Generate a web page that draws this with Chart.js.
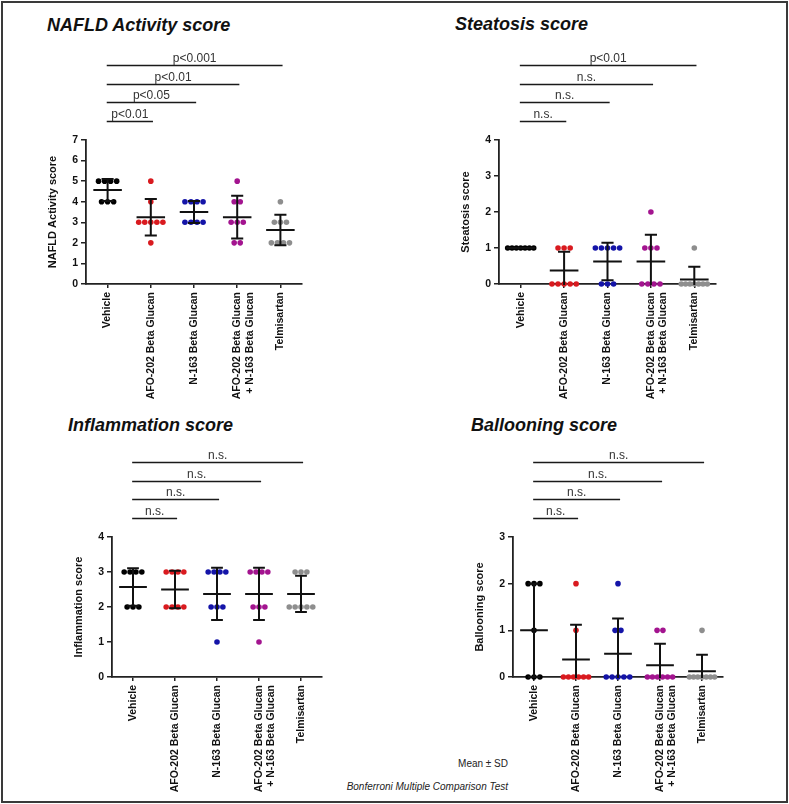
<!DOCTYPE html>
<html><head><meta charset="utf-8">
<script src="https://cdn.jsdelivr.net/npm/chart.js@4.4.0/dist/chart.umd.min.js"></script>
<style>
body{margin:0;background:#fff;width:789px;height:804px;position:relative;overflow:hidden;font-family:"Liberation Sans",Arial,Helvetica,sans-serif;}
.frame{position:absolute;left:1px;top:1px;width:783px;height:798px;border:2px solid #3a3a3a;}
.title{position:absolute;font-weight:bold;font-style:italic;font-size:18px;line-height:18px;color:#111;white-space:nowrap;}
canvas{position:absolute;}
.note{position:absolute;right:281px;font-size:10px;line-height:12px;color:#222;white-space:nowrap;text-align:right;}
</style></head><body>
<div class="frame"></div>
<div class="title" style="left:47px;top:16px;">NAFLD Activity score</div>
<div class="title" style="left:455px;top:15px;">Steatosis score</div>
<div class="title" style="left:68px;top:416px;">Inflammation score</div>
<div class="title" style="left:471px;top:416px;">Ballooning score</div>
<div class="note" style="top:758px;">Mean ± SD</div>
<div class="note" style="top:781px;font-style:italic;">Bonferroni Multiple Comparison Test</div>
<canvas id="c1"></canvas><canvas id="c2"></canvas><canvas id="c3"></canvas><canvas id="c4"></canvas>
<script>
// ---- data ----
const groups = ["Vehicle", "AFO-202 Beta Glucan", "N-163 Beta Glucan", ["AFO-202 Beta Glucan", "+ N-163 Beta Glucan"], "Telmisartan"];
const nafldScores = [[5,5,5,5,4,4,4],[5,4,3,3,3,3,3,2],[4,4,4,4,3,3,3,3],[5,4,4,3,3,3,2,2],[4,3,3,3,2,2,2,2]];
const steatosisScores = [[1,1,1,1,1,1,1],[1,1,1,0,0,0,0,0],[1,1,1,1,1,0,0,0],[2,1,1,1,0,0,0,0],[1,0,0,0,0,0,0,0]];
const inflammationScores = [[3,3,3,3,2,2,2],[3,3,3,3,2,2,2,2],[3,3,3,3,2,2,2,1],[3,3,3,3,2,2,2,1],[3,3,3,2,2,2,2,2]];
const ballooningScores = [[2,2,2,1,0,0,0],[2,1,0,0,0,0,0,0],[2,1,1,0,0,0,0,0],[1,1,0,0,0,0,0,0],[1,0,0,0,0,0,0,0]];
const nafldPLabels = ["p<0.01", "p<0.05", "p<0.01", "p<0.001"];
const steatosisPLabels = ["n.s.", "n.s.", "n.s.", "p<0.01"];
const inflammationPLabels = ["n.s.", "n.s.", "n.s.", "n.s."];
const ballooningPLabels = ["n.s.", "n.s.", "n.s.", "n.s."];
const nafldYMax = 7, steatosisYMax = 4, inflammationYMax = 4, ballooningYMax = 3;

// ---- styles ----
const groupColors = ["#000000", "#d91a1f", "#1414a8", "#a3148f", "#8e8e8e"];
const family = '"Liberation Sans", Arial, Helvetica, sans-serif';
const TOP_PAD = 92, RIGHT_PAD = 12, Y_W = 52, X_H = 118;

function spreadPoints(values, g) {
  const counts = {}, seen = {};
  values.forEach(v => counts[v] = (counts[v] || 0) + 1);
  return values.map(v => {
    const n = counts[v];
    const j = seen[v] = (seen[v] === undefined ? 0 : seen[v] + 1);
    const step = n > 1 ? Math.min(0.14, 0.6 / (n - 1)) : 0;
    return {x: g + (j - (n - 1) / 2) * step, y: v};
  });
}
function stats(vals) {
  const n = vals.length;
  const m = vals.reduce((a, b) => a + b, 0) / n;
  const sd = Math.sqrt(vals.reduce((a, b) => a + (b - m) * (b - m), 0) / (n - 1));
  return {m, sd};
}

function makeChart(id, area, scores, yMax, yTitle, pLabels) {
  const cv = document.getElementById(id);
  const left = area.left - Y_W, top = area.top - TOP_PAD;
  const w = area.right + RIGHT_PAD - left, h = TOP_PAD + (area.bottom - area.top) + X_H;
  cv.style.left = left + 'px'; cv.style.top = top + 'px';
  cv.width = w; cv.height = h; cv.style.width = w + 'px'; cv.style.height = h + 'px';

  const errPlugin = {
    id: 'errbars',
    afterDatasetsDraw(chart) {
      const {ctx, chartArea: a, scales: {x, y}} = chart;
      ctx.save();
      ctx.beginPath(); ctx.rect(a.left - 30, a.top - 2, a.right - a.left + 60, a.bottom - a.top + 3); ctx.clip();
      ctx.strokeStyle = '#111'; ctx.lineWidth = 2;
      scores.forEach((vals, g) => {
        const {m, sd} = stats(vals);
        const px = x.getPixelForValue(g);
        const ym = y.getPixelForValue(m), yh = y.getPixelForValue(m + sd), yl = y.getPixelForValue(m - sd);
        ctx.beginPath();
        ctx.moveTo(x.getPixelForValue(g - 0.33), ym); ctx.lineTo(x.getPixelForValue(g + 0.33), ym);
        ctx.moveTo(px, yh); ctx.lineTo(px, yl);
        ctx.moveTo(x.getPixelForValue(g - 0.14), yh); ctx.lineTo(x.getPixelForValue(g + 0.14), yh);
        ctx.moveTo(x.getPixelForValue(g - 0.14), yl); ctx.lineTo(x.getPixelForValue(g + 0.14), yl);
        ctx.stroke();
      });
      ctx.restore();
    }
  };
  const bracketPlugin = {
    id: 'brackets',
    afterDraw(chart) {
      const {ctx, chartArea: a, scales: {x}} = chart;
      ctx.save();
      pLabels.forEach((lab, i) => {
        const k = i + 1;
        const yy = Math.round(a.top - (19.5 + 18.5 * i)) + 0.5;
        const x0 = x.getPixelForValue(-0.02), x1 = x.getPixelForValue(k + 0.05);
        ctx.strokeStyle = '#1a1a1a'; ctx.lineWidth = 1.7;
        ctx.beginPath(); ctx.moveTo(x0, yy); ctx.lineTo(x1, yy); ctx.stroke();
        ctx.fillStyle = '#333'; ctx.font = '12px ' + family;
        ctx.textAlign = 'center'; ctx.textBaseline = 'alphabetic';
        ctx.fillText(lab, (x0 + x1) / 2, yy - 3.5);
      });
      ctx.restore();
    }
  };

  const datasets = scores.map((vals, g) => ({
    data: spreadPoints(vals, g),
    backgroundColor: groupColors[g], borderColor: groupColors[g],
    pointRadius: 2.8, pointHoverRadius: 2.8, borderWidth: 0, clip: false
  }));
  const tickFont = {size: 10.5, weight: 'bold', family};
  return new Chart(cv, {
    type: 'scatter',
    data: {datasets},
    options: {
      responsive: false, animation: false, events: [], devicePixelRatio: 1,
      layout: {padding: {top: TOP_PAD, right: RIGHT_PAD, left: 0, bottom: 0}},
      plugins: {legend: {display: false}, tooltip: {enabled: false}},
      scales: {
        x: {
          type: 'linear', min: -0.5, max: 4.5,
          afterBuildTicks: s => { s.ticks = groups.map((_, i) => ({value: i})); },
          afterFit: s => { s.height = X_H; },
          ticks: {autoSkip: false, maxRotation: 90, minRotation: 90, color: '#111', font: tickFont, padding: 4,
                  callback: v => groups[v]},
          grid: {drawOnChartArea: false, drawTicks: true, tickLength: 4, color: '#222', lineWidth: 1.5},
          border: {color: '#222', width: 1.8}
        },
        y: {
          min: 0, max: yMax,
          afterBuildTicks: s => { const t = []; for (let v = 0; v <= yMax; v++) t.push({value: v}); s.ticks = t; },
          afterFit: s => { s.width = Y_W; },
          ticks: {color: '#111', font: tickFont, padding: 3, callback: v => String(v)},
          grid: {drawOnChartArea: false, drawTicks: true, tickLength: 5, color: '#222', lineWidth: 1.5},
          border: {color: '#222', width: 1.8},
          title: {display: true, text: yTitle, color: '#111', font: {size: 11, weight: 'bold', family},
                  padding: {top: 12.4, bottom: 0}}
        }
      }
    },
    plugins: [errPlugin, bracketPlugin]
  });
}

makeChart('c1', {left: 86, top: 140, right: 302, bottom: 284}, nafldScores, nafldYMax, 'NAFLD Activity score', nafldPLabels);
makeChart('c2', {left: 499, top: 140, right: 716, bottom: 284}, steatosisScores, steatosisYMax, 'Steatosis score', steatosisPLabels);
makeChart('c3', {left: 112, top: 537, right: 322, bottom: 677}, inflammationScores, inflammationYMax, 'Inflammation score', inflammationPLabels);
makeChart('c4', {left: 513, top: 537, right: 723, bottom: 677}, ballooningScores, ballooningYMax, 'Ballooning score', ballooningPLabels);
</script>
</body></html>
